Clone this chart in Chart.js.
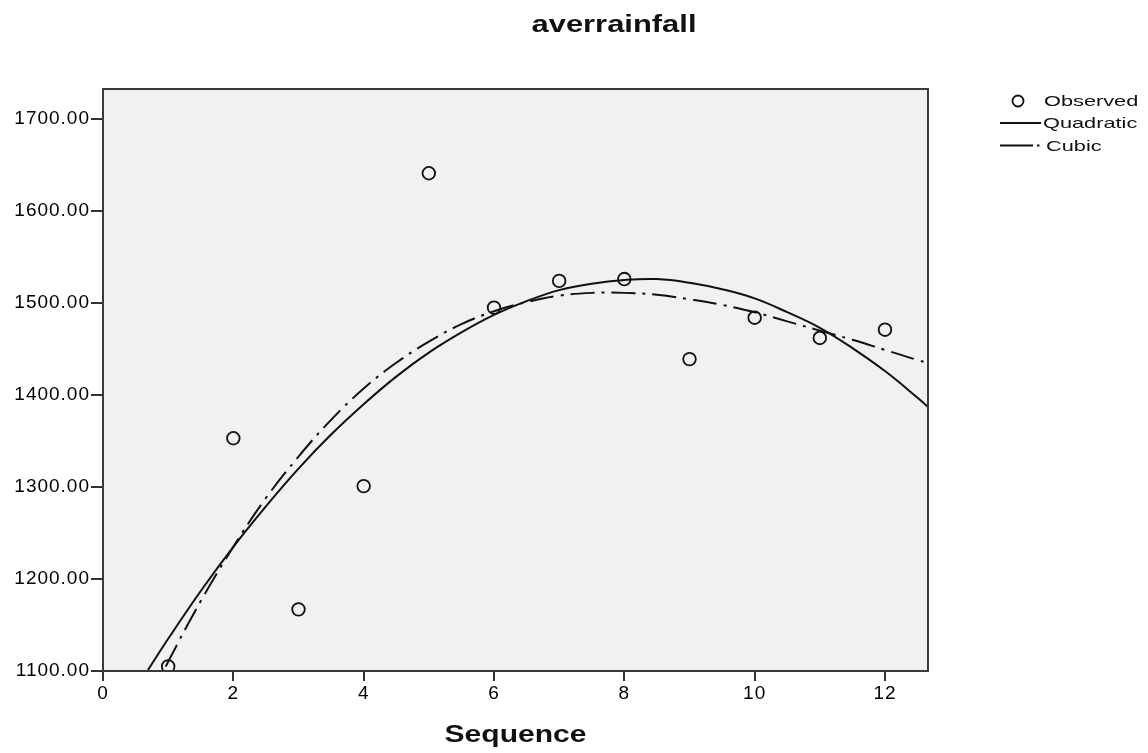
<!DOCTYPE html>
<html>
<head>
<meta charset="utf-8">
<script src="https://cdn.jsdelivr.net/npm/chart.js@4/dist/chart.umd.min.js"></script>
<style>
html,body{margin:0;padding:0;background:#fff;}
#wrap{width:1148px;height:753px;}
</style>
</head>
<body>
<div id="wrap"><canvas id="c" width="1148" height="753"></canvas></div>
<script>
// ---- data ----
const chartTitle = 'averrainfall';
const xAxisTitle = 'Sequence';
const seriesNames = ['Observed', 'Quadratic', 'Cubic'];
const sequence = [1, 2, 3, 4, 5, 6, 7, 8, 9, 10, 11, 12];
const observed = [1105, 1353, 1167, 1301, 1641, 1495, 1524, 1526, 1439, 1484, 1462, 1471];
const curveX = [0.69, 1, 1.5, 2, 2.5, 3, 3.5, 4, 4.5, 5, 5.5, 6, 6.5, 7, 7.5, 8, 8.5, 9, 9.5, 10, 10.5, 11, 11.5, 12, 12.5, 12.66];
const quadratic = [1101, 1135, 1187, 1235, 1279, 1320, 1357, 1390, 1420, 1446, 1468, 1487, 1502, 1514, 1521, 1525, 1526, 1522, 1515, 1505, 1490, 1473, 1451, 1426, 1397, 1387];
const cubic = [1065, 1110, 1176, 1235, 1288, 1333, 1373, 1407, 1435, 1458, 1477, 1491, 1501, 1508, 1511, 1511, 1509, 1504, 1498, 1490, 1480, 1470, 1460, 1449, 1438, 1435];
const xTickStep = 2;
const yTicks = [1100, 1200, 1300, 1400, 1500, 1600, 1700];

const INK = '#111111';
const cubicDash = [24, 7, 3, 7];

function stretchedText(ctx, text, x, y, font, sx, align) {
  ctx.save();
  ctx.letterSpacing = '0px';
  ctx.font = font;
  ctx.textAlign = align;
  ctx.textBaseline = 'alphabetic';
  ctx.fillStyle = INK;
  ctx.translate(x, y);
  ctx.scale(sx, 1);
  ctx.fillText(text, 0, 0);
  ctx.restore();
}
function fitText(ctx, text, x, y, font, targetW, align) {
  ctx.save();
  ctx.letterSpacing = '0px';
  ctx.font = font;
  const w = ctx.measureText(text).width;
  ctx.restore();
  stretchedText(ctx, text, x, y, font, targetW / w, align);
}

const decor = {
  id: 'decor',
  beforeDraw(chart) {
    const {ctx, chartArea: a} = chart;
    ctx.save();
    ctx.fillStyle = '#f0f1f0';
    ctx.fillRect(a.left, a.top, a.right - a.left, a.bottom - a.top);
    ctx.restore();
    ctx.letterSpacing = '1px';
  },
  afterDraw(chart) {
    const {ctx, chartArea: a} = chart;
    ctx.save();
    ctx.letterSpacing = '0px';
    // frame
    ctx.strokeStyle = '#3a3a3a';
    ctx.lineWidth = 2;
    ctx.strokeRect(a.left, a.top, a.right - a.left, a.bottom - a.top);
    ctx.restore();
    // title and axis title
    fitText(ctx, chartTitle, 614, 32, 'bold 24px "Liberation Sans", Arial, sans-serif', 165, 'center');
    fitText(ctx, xAxisTitle, (a.left + a.right) / 2, 742, 'bold 24px "Liberation Sans", Arial, sans-serif', 142, 'center');
    // legend
    const lf = '15px "Liberation Sans", Arial, sans-serif';
    const ds = chart.data.datasets;
    ctx.save();
    ctx.strokeStyle = INK;
    ctx.lineWidth = 1.8;
    ctx.beginPath();
    ctx.arc(1018, 101, 5.5, 0, Math.PI * 2);
    ctx.stroke();
    ctx.lineWidth = 2;
    ctx.beginPath();
    ctx.moveTo(1000, 123); ctx.lineTo(1041, 123);
    ctx.stroke();
    ctx.beginPath();
    ctx.moveTo(1000, 145.5); ctx.lineTo(1033, 145.5);
    ctx.stroke();
    ctx.beginPath();
    ctx.moveTo(1037, 145.5); ctx.lineTo(1039.5, 145.5);
    ctx.stroke();
    ctx.restore();
    stretchedText(ctx, ds[2].label, 1044, 106, lf, 1.45, 'left');
    stretchedText(ctx, ds[0].label, 1043, 128, lf, 1.45, 'left');
    stretchedText(ctx, ds[1].label, 1046, 151, lf, 1.45, 'left');
  }
};

const toPts = (xs, ys) => xs.map((x, i) => ({x: x, y: ys[i]}));

new Chart(document.getElementById('c'), {
  type: 'scatter',
  data: {
    datasets: [
      {
        label: seriesNames[1],
        data: toPts(curveX, quadratic),
        showLine: true,
        borderColor: INK,
        borderWidth: 2,
        pointRadius: 0,
        tension: 0.4,
        clip: 0,
        order: 1
      },
      {
        label: seriesNames[2],
        data: toPts(curveX, cubic),
        showLine: true,
        borderColor: INK,
        borderWidth: 2,
        borderDash: cubicDash,
        pointRadius: 0,
        tension: 0.4,
        clip: 0,
        order: 2
      },
      {
        label: seriesNames[0],
        data: toPts(sequence, observed),
        showLine: false,
        pointStyle: 'circle',
        pointRadius: 6.3,
        pointHoverRadius: 6.3,
        pointBorderWidth: 1.8,
        borderColor: INK,
        backgroundColor: 'rgba(0,0,0,0)',
        clip: 0,
        order: 0
      }
    ]
  },
  options: {
    responsive: false,
    animation: false,
    events: [],
    layout: {padding: {top: 89, right: 220, left: 0, bottom: 0}},
    plugins: {
      legend: {display: false},
      title: {display: false},
      tooltip: {enabled: false}
    },
    scales: {
      x: {
        type: 'linear',
        min: 0,
        max: 12.66,
        afterFit: s => { s.height = 82; },
        border: {display: false},
        grid: {display: true, drawOnChartArea: false, drawTicks: true, tickLength: 10, color: '#333', lineWidth: 2},
        ticks: {
          stepSize: xTickStep,
          includeBounds: false,
          autoSkip: false,
          maxRotation: 0,
          padding: 1,
          color: '#000',
          font: {family: '"Liberation Sans", Arial, sans-serif', size: 19}
        }
      },
      y: {
        type: 'linear',
        min: yTicks[0],
        max: 1732.6,
        afterFit: s => { s.width = 103; },
        afterBuildTicks: s => { s.ticks = yTicks.map(v => ({value: v})); },
        border: {display: false},
        grid: {display: true, drawOnChartArea: false, drawTicks: true, tickLength: 12, color: '#333', lineWidth: 2},
        ticks: {
          includeBounds: false,
          padding: 1,
          color: '#000',
          font: {family: '"Liberation Sans", Arial, sans-serif', size: 19},
          callback: v => Number(v).toFixed(2)
        }
      }
    }
  },
  plugins: [decor]
});
</script>
</body>
</html>
